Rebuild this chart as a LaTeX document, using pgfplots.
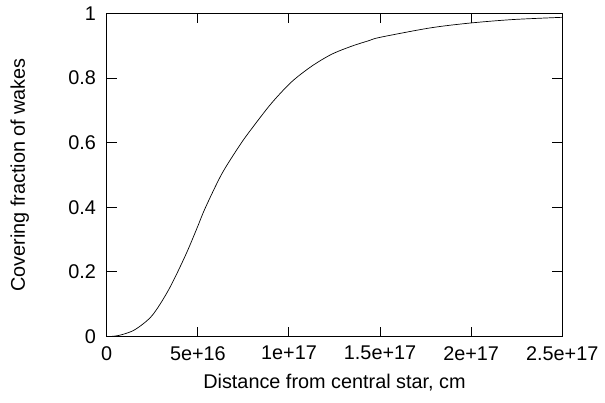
\documentclass[border={4bp 5bp 0bp 0bp}]{standalone}
\usepackage{pgfplots}
\pgfplotsset{compat=1.18}
\usepackage{fontspec}
\setmainfont{Liberation Sans}
\begin{document}
\fontsize{20}{23}\selectfont
\begin{tikzpicture}
  \begin{axis}[
    scale only axis,
    width=457.5bp, height=324.5bp,
    xmin=0, xmax=2.5e17,
    ymin=0, ymax=1,
    xtick={0,5e16,1e17,1.5e17,2e17,2.5e17},
    xticklabels={0,5e+16,1e+17,1.5e+17,2e+17,2.5e+17},
    ytick={0,0.2,0.4,0.6,0.8,1},
    yticklabels={0,0.2,0.4,0.6,0.8,1},
    scaled x ticks=false,
    tick align=inside,
    major tick length=10bp,
    axis line style={line width=1pt},
    every tick/.style={line width=1pt, black},
    xlabel={Distance from central star, cm},
    ylabel={Covering fraction of wakes},
    xticklabel style={yshift=-3bp},
    yticklabel style={xshift=-4bp},
    xlabel style={yshift=0bp},
    ylabel style={yshift=26bp},
  ]
    \addplot[black, line width=0.7pt, smooth] coordinates {
      (0,0) (0.4e16,0.001) (0.85e16,0.006) (1.57e16,0.022) (2.49e16,0.065)
      (3.40e16,0.145) (4.31e16,0.250) (4.95e16,0.335) (5.40e16,0.397)
      (6.31e16,0.503) (7.3e16,0.592) (7.95e16,0.643) (9.04e16,0.722)
      (1.014e17,0.788) (1.123e17,0.836) (1.232e17,0.873) (1.341e17,0.898)
      (1.44e17,0.916) (1.5e17,0.926) (1.773e17,0.955) (1.99e17,0.970)
      (2.227e17,0.981) (2.5e17,0.988)
    };
  \end{axis}
\end{tikzpicture}
\end{document}
